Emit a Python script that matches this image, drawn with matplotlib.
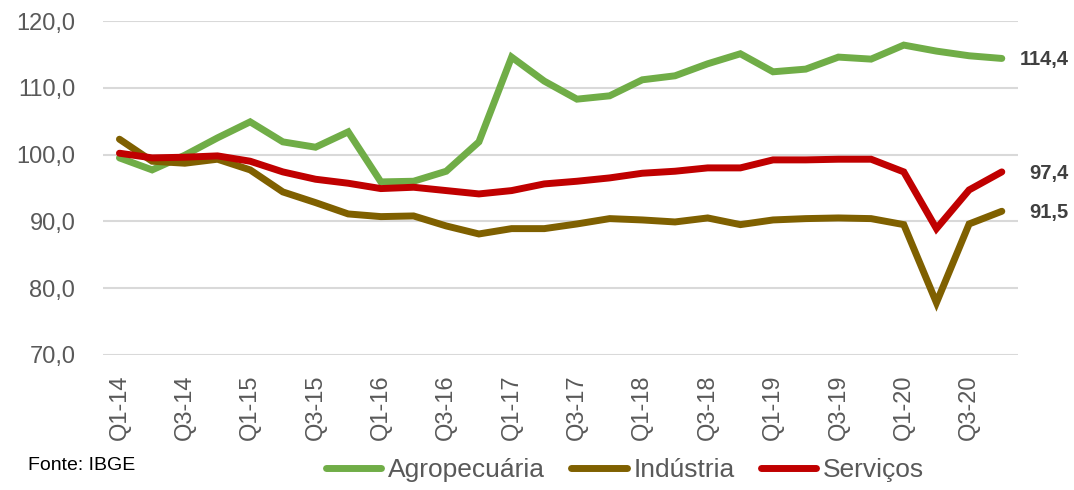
import matplotlib
matplotlib.use("Agg")
from matplotlib import pyplot as plt

plt.rcParams['font.family'] = ['Liberation Sans', 'DejaVu Sans']

quarters = [f"Q{q}-{y}" for y in range(14, 21) for q in range(1, 5)]

agro = [99.5, 97.7, 99.9, 102.5, 104.9, 101.9, 101.1, 103.4, 95.9, 96.0, 97.5, 101.9,
        114.6, 111.0, 108.3, 108.8, 111.2, 111.8, 113.6, 115.1, 112.4, 112.8, 114.6, 114.3,
        116.4, 115.5, 114.8, 114.4]
industria = [102.3, 99.0, 98.7, 99.3, 97.7, 94.4, 92.8, 91.1, 90.7, 90.8, 89.3, 88.1,
             88.9, 88.9, 89.6, 90.4, 90.2, 89.9, 90.5, 89.5, 90.2, 90.4, 90.5, 90.4,
             89.5, 77.8, 89.6, 91.5]
servicos = [100.2, 99.5, 99.6, 99.8, 99.0, 97.4, 96.3, 95.7, 94.9, 95.1, 94.6, 94.1,
            94.6, 95.6, 96.0, 96.5, 97.2, 97.5, 98.0, 98.0, 99.2, 99.2, 99.3, 99.3,
            97.4, 88.9, 94.7, 97.4]

series = [("Agropecuária", agro, "#70AD47"),
          ("Indústria", industria, "#7F6000"),
          ("Serviços", servicos, "#C00000")]

fig = plt.figure(figsize=(10.74, 4.9), dpi=100)
ax = fig.add_axes([0.096, 0.276, 0.852, 0.681])

x = list(range(len(quarters)))
for name, vals, col in series:
    ax.plot(x, vals, color=col, lw=5, label=name, solid_capstyle='round', solid_joinstyle='miter')
    ax.annotate(f"{vals[-1]:.1f}".replace(".", ","), xy=(x[-1], vals[-1]),
                xytext=(48, -1), textcoords='offset points', ha='right', va='center',
                fontsize=14.5, fontweight='bold', color='#404040')

ax.set_ylim(70, 120)
ax.set_xlim(-0.5, len(quarters) - 0.5)
ax.set_yticks(range(70, 121, 10))
ax.set_yticklabels([f"{v},0" for v in range(70, 121, 10)])
ax.set_xticks(x[::2])
ax.set_xticklabels(quarters[::2], rotation=90)
ax.tick_params(axis='y', length=0, pad=20, labelsize=17, labelcolor='#595959')
ax.tick_params(axis='x', length=0, pad=14, labelsize=17, labelcolor='#595959')
ax.grid(axis='y', color='#D9D9D9', lw=1.5)
ax.set_axisbelow(True)
for s in ax.spines.values():
    s.set_visible(False)

fig.legend(loc='center', bbox_to_anchor=(0.582, 0.04), ncol=3, frameon=False,
           fontsize=19, handlelength=2.1, handletextpad=0.25, columnspacing=1.0,
           labelcolor='#595959')
fig.text(0.026, 0.05, "Fonte: IBGE", fontsize=14, color='black', va='center')

fig.savefig("out.png", dpi=100)
